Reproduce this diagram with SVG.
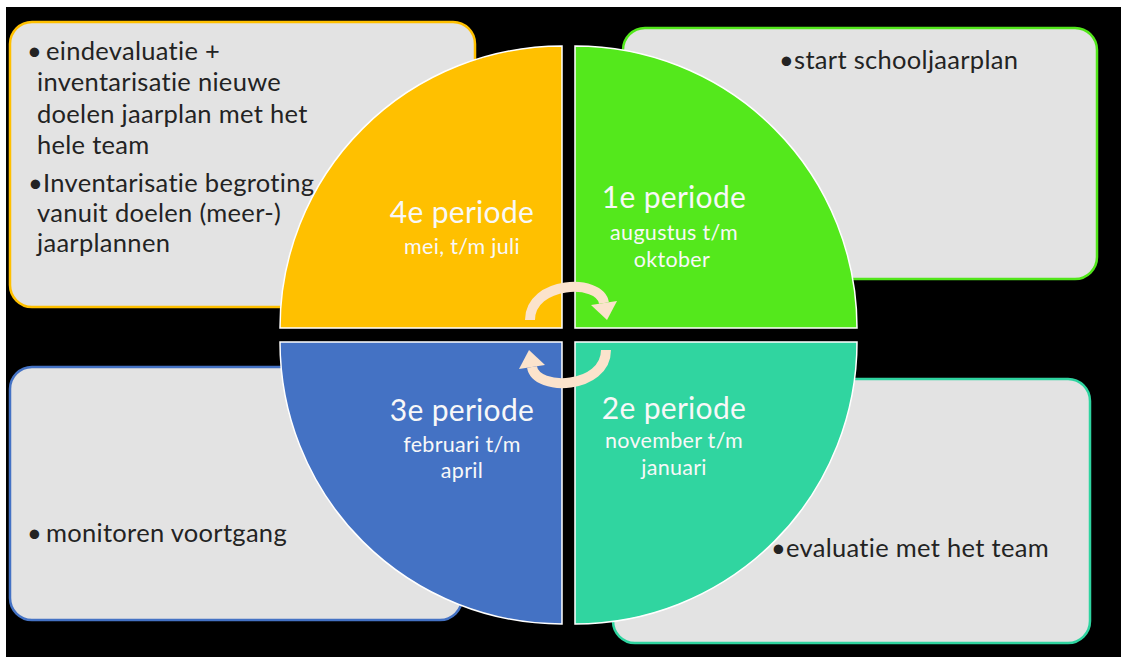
<svg xmlns="http://www.w3.org/2000/svg" width="1121" height="657" viewBox="0 0 1121 657">
<style>
.box{fill:#e3e3e3;stroke-width:2.5}
.q{stroke:#ffffff;stroke-width:1.5}
.bt{font-family:Lato,"Liberation Sans",sans-serif;font-size:25.5px;fill:#232323;letter-spacing:0.3px}
.tt{font-family:Lato,"Liberation Sans",sans-serif;font-size:30px;fill:#f8f8f8;text-anchor:middle;letter-spacing:0.3px}
.st{font-family:Lato,"Liberation Sans",sans-serif;font-size:21.5px;fill:#f8f8f8;text-anchor:middle;letter-spacing:0.3px}
.arc{fill:none;stroke:#fbe3cc;stroke-width:10}
.ah{fill:#fbe3cc}
</style>
<rect x="0" y="0" width="1121" height="657" fill="#ffffff"/>
<rect x="6" y="7" width="1115" height="650" fill="#000000"/>

<g id="box-tl"><rect class="box" x="10" y="22" width="465" height="285" rx="22" stroke="#ffc000"/></g>
<g id="box-tr"><rect class="box" x="623" y="28" width="474" height="251" rx="22" stroke="#52e61b"/></g>
<g id="box-bl"><rect class="box" x="10" y="367" width="452" height="253" rx="22" stroke="#4472c4"/></g>
<g id="box-br"><rect class="box" x="613" y="379" width="477" height="264" rx="22" stroke="#2fd4a0"/></g>

<g id="q4"><path class="q" fill="#ffc000" d="M562,328 L280,328 A282,282 0 0 1 562,46 Z"/></g>
<g id="q1"><path class="q" fill="#54e81c" d="M575,328 L575,46 A282,282 0 0 1 857,328 Z"/></g>
<g id="q2"><path class="q" fill="#30d5a0" d="M575,342 L857,342 A282,282 0 0 1 575,624 Z"/></g>
<g id="q3"><path class="q" fill="#4472c4" d="M562,342 L562,624 A282,282 0 0 1 280,342 Z"/></g>

<g id="connectors">
<g id="arrow-top">
<path class="arc" d="M530,320 C530,281 600,278 604,303"/>
<polygon class="ah" points="591,305 617,301 607,320"/>
</g>
<g id="arrow-bottom" transform="rotate(180 568 335)">
<path class="arc" d="M530,320 C530,281 600,278 604,303"/>
<polygon class="ah" points="591,305 617,301 607,320"/>
</g>
</g>

<g id="text-tl">
<text class="bt"><tspan x="27" y="60">•</tspan><tspan x="46" y="60">eindevaluatie +</tspan></text>
<text class="bt" x="37" y="91">inventarisatie nieuwe</text>
<text class="bt" x="37" y="123">doelen jaarplan met het</text>
<text class="bt" x="37" y="154">hele team</text>
<text class="bt" x="28" y="192">•Inventarisatie begroting</text>
<text class="bt" x="37" y="222">vanuit doelen (meer-)</text>
<text class="bt" x="37" y="252">jaarplannen</text>
</g>
<g id="text-tr"><text class="bt" x="779" y="69">•start schooljaarplan</text></g>
<g id="text-bl"><text class="bt"><tspan x="27" y="542">•</tspan><tspan x="46" y="542">monitoren voortgang</tspan></text></g>
<g id="text-br"><text class="bt" x="771" y="557">•evaluatie met het team</text></g>

<g id="label-q4">
<text class="tt" x="462" y="223">4e periode</text>
<text class="st" x="462" y="254">mei, t/m juli</text>
</g>
<g id="label-q1">
<text class="tt" x="674" y="208">1e periode</text>
<text class="st" x="674" y="240">augustus t/m</text>
<text class="st" x="672" y="267">oktober</text>
</g>
<g id="label-q3">
<text class="tt" x="462" y="421">3e periode</text>
<text class="st" x="462" y="452">februari t/m</text>
<text class="st" x="462" y="478">april</text>
</g>
<g id="label-q2">
<text class="tt" x="674" y="419">2e periode</text>
<text class="st" x="674" y="448">november t/m</text>
<text class="st" x="674" y="475">januari</text>
</g>
</svg>
